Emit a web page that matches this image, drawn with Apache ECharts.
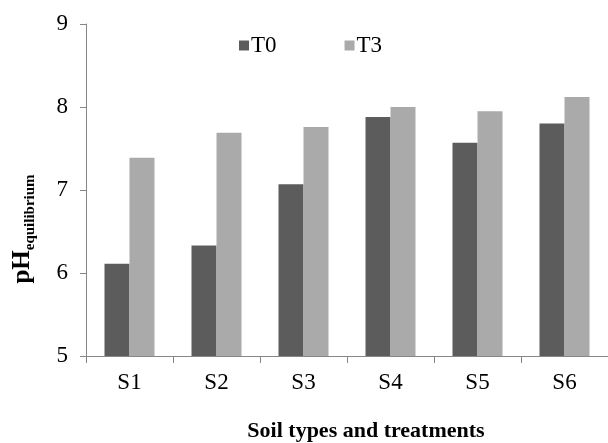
<!DOCTYPE html>
<html>
<head>
<meta charset="utf-8">
<script src="https://cdn.jsdelivr.net/npm/echarts@6/dist/echarts.min.js"></script>
<style>html,body{margin:0;padding:0;background:#fff;}#c{width:608px;height:443px;}</style>
</head>
<body>
<div id="c"></div>
<script>
var categories = ['S1', 'S2', 'S3', 'S4', 'S5', 'S6'];
var seriesNames = ['T0', 'T3'];
var t0Values = [6.11, 6.33, 7.07, 7.88, 7.57, 7.80];
var t3Values = [7.39, 7.69, 7.76, 8.00, 7.95, 8.12];
var yTicks = [5, 6, 7, 8, 9];

var font = 'Liberation Serif';
var chart = echarts.init(document.getElementById('c'), null, {renderer: 'canvas'});
chart.setOption({
  backgroundColor: '#ffffff',
  animation: false,
  textStyle: {fontFamily: font},
  grid: {left: 86, right: -2, top: 24, bottom: 87, containLabel: false},
  legend: {
    data: seriesNames,
    left: 234,
    top: 29,
    itemWidth: 10,
    itemHeight: 10,
    itemGap: 68,
    icon: 'rect',
    textStyle: {fontFamily: font, fontSize: 23, color: '#000', padding: [0, 0, 0, -3]}
  },
  xAxis: {
    type: 'category',
    data: categories,
    axisLine: {lineStyle: {color: '#868686', width: 1}},
    axisTick: {show: true, length: 7, lineStyle: {color: '#868686'}},
    axisLabel: {fontFamily: font, fontSize: 23, color: '#000', margin: 15}
  },
  yAxis: {
    type: 'value',
    min: yTicks[0],
    max: yTicks[yTicks.length - 1],
    interval: 1,
    axisLine: {show: true, lineStyle: {color: '#868686', width: 1}},
    axisTick: {show: true, length: 6, lineStyle: {color: '#868686'}},
    splitLine: {show: false},
    axisLabel: {fontFamily: font, fontSize: 23, color: '#000', margin: 18}
  },
  series: [
    {name: seriesNames[0], type: 'bar', data: t0Values, barWidth: 25, barGap: '0%', itemStyle: {color: '#5c5c5c'}},
    {name: seriesNames[1], type: 'bar', data: t3Values, barWidth: 25, barGap: '0%', itemStyle: {color: '#aaaaaa'}}
  ],
  graphic: [
    {
      type: 'text',
      x: 366,
      y: 431,
      style: {
        text: 'Soil types and treatments',
        fontFamily: font, fontSize: 22, fontWeight: 'bold', fill: '#000',
        textAlign: 'center', textVerticalAlign: 'middle'
      }
    },
    {
      type: 'text',
      x: 22,
      y: 229,
      rotation: Math.PI / 2,
      style: {
        text: '{a|pH}{b|equilibrium}',
        textAlign: 'center', textVerticalAlign: 'middle',
        rich: {
          a: {fontFamily: font, fontSize: 25, fontWeight: 'bold', fill: '#000', lineHeight: 26, verticalAlign: 'bottom'},
          b: {fontFamily: font, fontSize: 15, fontWeight: 'bold', fill: '#000', verticalAlign: 'bottom', padding: [0, 0, -3, 0]}
        }
      }
    }
  ]
});
</script>
</body>
</html>
